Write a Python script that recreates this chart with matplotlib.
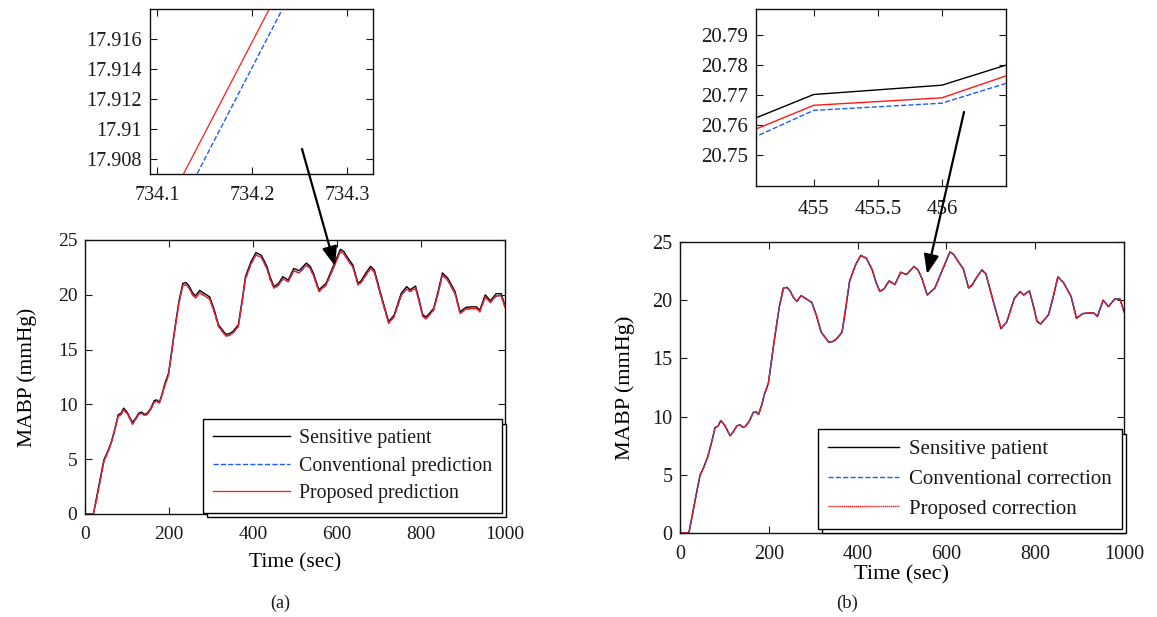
import matplotlib
matplotlib.use("Agg")
import matplotlib.pyplot as plt
from matplotlib.ticker import FormatStrFormatter, FuncFormatter

plt.rcParams['font.family'] = ['Liberation Serif', 'DejaVu Serif']
plt.rcParams['text.color'] = '#1a1a1a'
plt.rcParams['xtick.color'] = '#1a1a1a'
plt.rcParams['ytick.color'] = '#1a1a1a'

# --- data ---
time = [0, 10, 20, 28, 36, 45, 54, 62, 70, 79,
        86, 92, 100, 107, 113, 120, 128, 135, 141, 147,
        156, 165, 171, 177, 184, 190, 199, 205, 211, 218,
        224, 233, 241, 248, 256, 263, 273, 285, 297, 308,
        318, 327, 335, 344, 352, 365, 374, 382, 395, 407,
        420, 433, 441, 450, 460, 471, 484, 497, 510, 527,
        536, 544, 557, 574, 591, 608, 616, 627, 638, 650,
        658, 668, 680, 689, 706, 723, 736, 753, 766, 774,
        787, 796, 804, 812, 830, 840, 851, 864, 881, 893,
        907, 920, 932, 940, 953, 965, 979, 991, 1000]

patient = [0, 0, 0, 1.6, 3.2, 4.95, 5.7, 6.5, 7.6, 9.05,
           9.2, 9.66, 9.3, 8.8, 8.35, 8.7, 9.2, 9.3, 9.1, 9.15,
           9.6, 10.36, 10.4, 10.2, 11.0, 11.9, 12.85, 14.5, 16.2, 18.0,
           19.5, 21.05, 21.1, 20.8, 20.2, 19.9, 20.4, 20.1, 19.8, 18.6,
           17.25, 16.8, 16.4, 16.45, 16.65, 17.25, 19.5, 21.65, 23.0, 23.85,
           23.6, 22.6, 21.6, 20.75, 21.0, 21.65, 21.35, 22.4, 22.2, 22.9,
           22.6, 21.95, 20.45, 21.05, 22.6, 24.15, 23.95, 23.3, 22.7, 21.05,
           21.3, 21.95, 22.6, 22.25, 19.85, 17.55, 18.15, 20.15, 20.75, 20.45,
           20.8, 19.5, 18.2, 17.95, 18.75, 20.2, 22.0, 21.5, 20.3, 18.45,
           18.85, 18.9, 18.9, 18.6, 20.0, 19.45, 20.1, 20.1, 19.0]

# panel (a): predictions
pred_prop_a = [0, 0, 0, 1.4, 3.0, 4.8, 5.6, 6.4, 7.5, 8.9,
               9.1, 9.5, 9.2, 8.7, 8.2, 8.6, 9.1, 9.2, 9.0, 9.05,
               9.5, 10.2, 10.3, 10.1, 10.9, 11.7, 12.7, 14.3, 16.0, 17.8,
               19.3, 20.85, 20.9, 20.6, 20.0, 19.7, 20.2, 19.9, 19.6, 18.4,
               17.1, 16.65, 16.25, 16.3, 16.5, 17.1, 19.3, 21.45, 22.8, 23.65,
               23.4, 22.4, 21.4, 20.6, 20.85, 21.45, 21.2, 22.2, 22.0, 22.7,
               22.4, 21.75, 20.3, 20.9, 22.4, 23.95, 23.75, 23.1, 22.5, 20.9,
               21.15, 21.75, 22.4, 22.05, 19.65, 17.4, 18.0, 19.95, 20.55, 20.3,
               20.6, 19.3, 18.05, 17.8, 18.6, 20.0, 21.8, 21.3, 20.1, 18.3,
               18.7, 18.75, 18.75, 18.45, 19.8, 19.3, 19.9, 19.9, 18.85]

pred_conv_a = [0, 0, 0, 1.38, 2.97, 4.78, 5.58, 6.38, 7.47, 8.88,
               9.08, 9.48, 9.19, 8.69, 8.19, 8.58, 9.08, 9.19, 8.99, 9.04,
               9.48, 10.18, 10.29, 10.09, 10.88, 11.68, 12.68, 14.27, 15.97, 17.77,
               19.28, 20.83, 20.89, 20.59, 19.99, 19.69, 20.18, 19.89, 19.59, 18.38,
               17.09, 16.64, 16.24, 16.29, 16.49, 17.08, 19.27, 21.43, 22.78, 23.63,
               23.39, 22.39, 21.39, 20.59, 20.84, 21.43, 21.19, 22.18, 21.99, 22.68,
               22.39, 21.74, 20.29, 20.88, 22.38, 23.93, 23.74, 23.09, 22.49, 20.89,
               21.13, 21.73, 22.38, 22.04, 19.64, 17.39, 17.98, 19.93, 20.53, 20.29,
               20.58, 19.29, 18.04, 17.79, 18.58, 19.98, 21.78, 21.29, 20.09, 18.29,
               18.68, 18.74, 18.74, 18.44, 19.78, 19.29, 19.88, 19.89, 18.84]

# panel (b): corrections (almost on top of the patient curve)
corr_conv_b = [0, 0, 0, 1.58, 3.19, 4.94, 5.69, 6.49, 7.59, 9.04,
               9.19, 9.65, 9.29, 8.79, 8.34, 8.69, 9.19, 9.29, 9.09, 9.14,
               9.59, 10.35, 10.39, 10.19, 10.99, 11.89, 12.84, 14.49, 16.19, 17.99,
               19.49, 21.04, 21.09, 20.79, 20.19, 19.89, 20.39, 20.09, 19.79, 18.59,
               17.24, 16.79, 16.39, 16.44, 16.64, 17.24, 19.49, 21.64, 22.99, 23.84,
               23.59, 22.59, 21.59, 20.74, 20.99, 21.64, 21.34, 22.39, 22.19, 22.89,
               22.59, 21.94, 20.44, 21.04, 22.59, 24.14, 23.94, 23.29, 22.69, 21.04,
               21.29, 21.94, 22.59, 22.24, 19.84, 17.54, 18.14, 20.14, 20.74, 20.44,
               20.79, 19.49, 18.19, 17.94, 18.74, 20.19, 21.99, 21.49, 20.29, 18.44,
               18.84, 18.89, 18.89, 18.59, 19.99, 19.44, 20.09, 20.09, 18.99]

corr_prop_b = [0, 0, 0, 1.59, 3.2, 4.95, 5.7, 6.5, 7.6, 9.05,
               9.2, 9.66, 9.3, 8.8, 8.35, 8.7, 9.2, 9.3, 9.1, 9.15,
               9.6, 10.36, 10.4, 10.2, 11.0, 11.9, 12.85, 14.5, 16.2, 18.0,
               19.5, 21.05, 21.1, 20.8, 20.2, 19.9, 20.4, 20.1, 19.8, 18.6,
               17.25, 16.8, 16.4, 16.45, 16.65, 17.25, 19.5, 21.65, 23.0, 23.85,
               23.6, 22.6, 21.6, 20.75, 21.0, 21.65, 21.35, 22.4, 22.2, 22.9,
               22.6, 21.95, 20.45, 21.05, 22.6, 24.15, 23.95, 23.3, 22.7, 21.05,
               21.3, 21.95, 22.6, 22.25, 19.85, 17.55, 18.15, 20.15, 20.75, 20.45,
               20.8, 19.5, 18.2, 17.95, 18.75, 20.2, 22.0, 21.5, 20.3, 18.45,
               18.85, 18.9, 18.9, 18.6, 20.0, 19.45, 20.1, 20.1, 19.0]

# zoomed views
zoom_a_time = [734.0, 735.0]
zoom_a_prop = [17.8914, 18.0134]
zoom_a_conv = [17.8896, 18.0121]

zoom_b_time = [454, 455, 456, 457]
zoom_b_patient = [20.7529, 20.7702, 20.7733, 20.7867]
zoom_b_prop = [20.7490, 20.7666, 20.7691, 20.7837]
zoom_b_conv = [20.7456, 20.7649, 20.7673, 20.7805]

labels_a = ['Sensitive patient', 'Conventional prediction', 'Proposed prediction']
labels_b = ['Sensitive patient', 'Conventional correction', 'Proposed correction']

BLUE = '#1f5cff'
RED = '#ff1a1a'
W, H = 1157, 617


def px_rect(left, top, right, bottom):
    return [left / W, 1 - bottom / H, (right - left) / W, (bottom - top) / H]


def style_axes(ax, size, xpad=8.5, ypad=5.5):
    for s in ax.spines.values():
        s.set_linewidth(1.0)
        s.set_color('#111111')
    ax.tick_params(direction='in', top=True, right=True, length=5, width=0.8,
                   labelsize=size)
    ax.tick_params(axis='x', pad=xpad)
    ax.tick_params(axis='y', pad=ypad)


def add_legend(ax, labels, size, hlen, lspace, bpad, anchor):
    leg = ax.legend(labels, loc='lower right', bbox_to_anchor=anchor, fontsize=size,
                    handlelength=hlen, handletextpad=0.45, labelspacing=lspace,
                    borderaxespad=0, borderpad=bpad, fancybox=False,
                    shadow={'ox': 3, 'oy': -3, 'facecolor': 'white',
                            'edgecolor': 'k', 'alpha': 1, 'lw': 1})
    leg.get_frame().set_edgecolor('k')
    leg.get_frame().set_linewidth(1.0)
    return leg


fig = plt.figure(figsize=(W / 100, H / 100), dpi=100)

# --- (a) main ---
ax1 = fig.add_axes(px_rect(85, 240, 505, 514))
ax1.plot(time, patient, color='k', lw=1.0)
ax1.plot(time, pred_conv_a, color=BLUE, lw=1.0, ls='--')
ax1.plot(time, pred_prop_a, color=RED, lw=0.9)
ax1.set_xlim(0, 1000)
ax1.set_ylim(0, 25)
ax1.set_xticks(range(0, 1001, 200))
ax1.set_yticks(range(0, 26, 5))
ax1.set_xlabel('Time (sec)', fontsize=15.5)
ax1.set_ylabel('MABP (mmHg)', fontsize=15.5)
ax1.xaxis.set_label_coords(0.5, -0.142)
ax1.yaxis.set_label_coords(-0.114, 0.5)
style_axes(ax1, 14)
add_legend(ax1, labels_a, 14.3, 3.9, 0.42, 0.5, (0.993, 0.004))

# --- (b) main ---
ax2 = fig.add_axes(px_rect(680, 242, 1124, 533))
ax2.plot(time, patient, color='k', lw=1.0)
ax2.plot(time, corr_conv_b, color=BLUE, lw=1.0, ls='--')
ax2.plot(time, corr_prop_b, color=RED, lw=1.0, ls=(0, (1, 0.4)))
ax2.set_xlim(0, 1000)
ax2.set_ylim(0, 25)
ax2.set_xticks(range(0, 1001, 200))
ax2.set_yticks(range(0, 26, 5))
ax2.set_xlabel('Time (sec)', fontsize=16)
ax2.set_ylabel('MABP (mmHg)', fontsize=16)
ax2.xaxis.set_label_coords(0.5, -0.11)
ax2.yaxis.set_label_coords(-0.101, 0.5)
style_axes(ax2, 14.5)
add_legend(ax2, labels_b, 15, 3.4, 0.48, 0.5, (0.995, 0.014))

# --- (a) inset ---
ins1 = fig.add_axes(px_rect(150, 9, 373, 174))
ins1.plot(zoom_a_time, zoom_a_conv, color=BLUE, lw=1.0, ls='--')
ins1.plot(zoom_a_time, zoom_a_prop, color=RED, lw=0.9)
ins1.set_xlim(734.0927, 734.327)
ins1.set_ylim(17.907, 17.918)
ins1.set_xticks([734.1, 734.2, 734.3])
ins1.set_yticks([17.908, 17.910, 17.912, 17.914, 17.916])
ins1.yaxis.set_major_formatter(FuncFormatter(lambda v, p: '%g' % round(v, 3)))
ins1.xaxis.set_major_formatter(FormatStrFormatter('%.1f'))
style_axes(ins1, 14.5, xpad=9, ypad=6)

# --- (b) inset ---
ins2 = fig.add_axes(px_rect(756, 9, 1006, 186))
ins2.plot(zoom_b_time, zoom_b_patient, color='k', lw=1.0)
ins2.plot(zoom_b_time, zoom_b_conv, color=BLUE, lw=1.0, ls='--')
ins2.plot(zoom_b_time, zoom_b_prop, color=RED, lw=1.0)
ins2.set_xlim(454.55, 456.5)
ins2.set_ylim(20.7397, 20.7987)
ins2.set_xticks([455, 455.5, 456])
ins2.set_yticks([20.75, 20.76, 20.77, 20.78, 20.79])
ins2.xaxis.set_major_formatter(FuncFormatter(lambda v, p: '%g' % v))
ins2.yaxis.set_major_formatter(FormatStrFormatter('%.2f'))
style_axes(ins2, 15, xpad=10, ypad=6)

# arrows from the insets to the curves
arrow_kw = dict(arrowstyle='-|>,head_length=0.9,head_width=0.35', color='k', lw=1.6,
                mutation_scale=13, shrinkA=0, shrinkB=0)
fig.add_artist(plt.Annotation('', xy=(335, H - 266), xytext=(302, H - 149),
                              xycoords='figure pixels', textcoords='figure pixels',
                              arrowprops=arrow_kw))
fig.add_artist(plt.Annotation('', xy=(927, H - 274), xytext=(964, H - 112),
                              xycoords='figure pixels', textcoords='figure pixels',
                              arrowprops=arrow_kw))

fig.text(280 / W, 1 - 603 / H, '(a)', ha='center', va='center', fontsize=13)
fig.text(847 / W, 1 - 603 / H, '(b)', ha='center', va='center', fontsize=13.5)

fig.savefig('out.png', dpi=100)
